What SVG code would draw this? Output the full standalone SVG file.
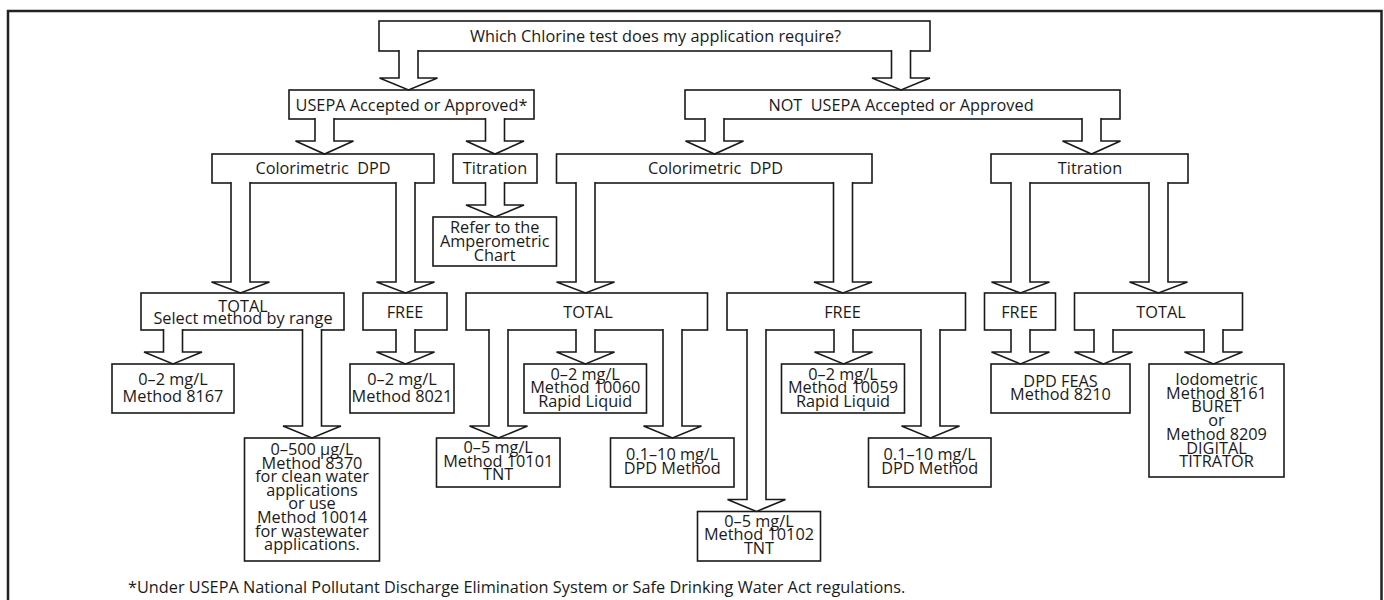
<svg xmlns="http://www.w3.org/2000/svg" width="1384" height="600" viewBox="0 0 1384 600">
<style>
.frame{fill:#fff;stroke:#222;stroke-width:2.5}
.box{fill:#fff;stroke:#1a1a1a;stroke-width:1.6}
.arr{fill:#fff;stroke:#1a1a1a;stroke-width:1.6;stroke-linejoin:miter}
text{font-family:"Open Sans","Liberation Sans",sans-serif;font-size:16.3px;fill:#1a1a1a;text-anchor:middle}
.note{text-anchor:start}
</style>
<rect class="frame" x="8" y="11" width="1373.5" height="620"/>
<g id="n-top"><rect class="box" x="379" y="21" width="551" height="30"/><text x="655.5" y="42">Which Chlorine test does my application require?</text></g>
<g id="n-usepa"><rect class="box" x="289" y="90" width="245" height="29"/><text x="411.5" y="111">USEPA Accepted or Approved*</text></g>
<g id="n-not"><rect class="box" x="685" y="90" width="435" height="29"/><text x="901" y="111" xml:space="preserve">NOT  USEPA Accepted or Approved</text></g>
<g id="n-colorL"><rect class="box" x="212" y="154" width="222" height="29"/><text x="323" y="174" xml:space="preserve">Colorimetric  DPD</text></g>
<g id="n-titrL"><rect class="box" x="453" y="154" width="84" height="29"/><text x="495" y="174">Titration</text></g>
<g id="n-colorR"><rect class="box" x="556.5" y="154" width="315.5" height="29"/><text x="715.5" y="174" xml:space="preserve">Colorimetric  DPD</text></g>
<g id="n-titrR"><rect class="box" x="991" y="154" width="197" height="29"/><text x="1090" y="174">Titration</text></g>
<g id="n-refer"><rect class="box" x="433" y="217" width="123.5" height="49"/><text x="494.7" y="233">Refer to the</text><text x="494.7" y="247">Amperometric</text><text x="494.7" y="261">Chart</text></g>
<g id="n-totalL"><rect class="box" x="141" y="293" width="203" height="37"/><text x="243" y="311.5">TOTAL</text><text x="243" y="323.5">Select method by range</text></g>
<g id="n-freeL"><rect class="box" x="363" y="293" width="84" height="37"/><text x="405" y="317.5">FREE</text></g>
<g id="n-totalM"><rect class="box" x="466" y="293" width="241.5" height="37"/><text x="588" y="317.5">TOTAL</text></g>
<g id="n-freeM"><rect class="box" x="727" y="293" width="238.5" height="37"/><text x="842.5" y="317.5">FREE</text></g>
<g id="n-freeR"><rect class="box" x="984.5" y="293" width="71" height="37"/><text x="1019.5" y="317.5">FREE</text></g>
<g id="n-totalR"><rect class="box" x="1074.5" y="293" width="168" height="37"/><text x="1161" y="317.5">TOTAL</text></g>
<g id="n-8167"><rect class="box" x="112" y="364" width="122" height="49"/><text x="173" y="385">0–2 mg/L</text><text x="173" y="401.5">Method 8167</text></g>
<g id="n-8021"><rect class="box" x="350" y="364" width="104" height="49"/><text x="402" y="385">0–2 mg/L</text><text x="402" y="401.5">Method 8021</text></g>
<g id="n-10060"><rect class="box" x="524" y="364" width="122.5" height="49"/><text x="585.2" y="379.5">0–2 mg/L</text><text x="585.2" y="393">Method 10060</text><text x="585.2" y="406.5">Rapid Liquid</text></g>
<g id="n-10059"><rect class="box" x="781.5" y="364" width="123" height="49"/><text x="843" y="379.5">0–2 mg/L</text><text x="843" y="393">Method 10059</text><text x="843" y="406.5">Rapid Liquid</text></g>
<g id="n-feas"><rect class="box" x="991" y="364" width="139" height="49"/><text x="1060.5" y="387">DPD FEAS</text><text x="1060.5" y="400">Method 8210</text></g>
<g id="n-iodo"><rect class="box" x="1149" y="364" width="135" height="113"/><text x="1216.5" y="385">Iodometric</text><text x="1216.5" y="398.5">Method 8161</text><text x="1216.5" y="412">BURET</text><text x="1216.5" y="425.5">or</text><text x="1216.5" y="439.5">Method 8209</text><text x="1216.5" y="453.5">DIGITAL</text><text x="1216.5" y="467">TITRATOR</text></g>
<g id="n-0500"><rect class="box" x="244.5" y="438" width="135" height="123"/><text x="312" y="455">0–500 µg/L</text><text x="312" y="468.5">Method 8370</text><text x="312" y="482">for clean water</text><text x="312" y="495.5">applications</text><text x="312" y="509">or use</text><text x="312" y="522.5">Method 10014</text><text x="312" y="536.5">for wastewater</text><text x="312" y="550">applications.</text></g>
<g id="n-10101"><rect class="box" x="436.5" y="438" width="123.5" height="49"/><text x="498.2" y="453">0–5 mg/L</text><text x="498.2" y="466.5">Method 10101</text><text x="498.2" y="480">TNT</text></g>
<g id="n-dpdM"><rect class="box" x="610.5" y="438" width="123.5" height="49"/><text x="672.2" y="460">0.1–10 mg/L</text><text x="672.2" y="474">DPD Method</text></g>
<g id="n-10102"><rect class="box" x="697.5" y="511.5" width="123" height="49.5"/><text x="759" y="526.5">0–5 mg/L</text><text x="759" y="540">Method 10102</text><text x="759" y="553.5">TNT</text></g>
<g id="n-dpdR"><rect class="box" x="868.5" y="438" width="122.5" height="49"/><text x="929.7" y="460">0.1–10 mg/L</text><text x="929.7" y="474">DPD Method</text></g>
<g id="connectors">
<path class="arr" d="M399,50 V78 H379.5 L408.5,90 L437.5,78 H418 V50"/>
<path class="arr" d="M891.5,50 V78 H872 L901,90 L930,78 H910.5 V50"/>
<path class="arr" d="M315,118 V141 H295.5 L324.5,154 L353.5,141 H334 V118"/>
<path class="arr" d="M485.5,118 V141 H466 L495,154 L524,141 H504.5 V118"/>
<path class="arr" d="M705,118 V141 H685.5 L714.5,154 L743.5,141 H724 V118"/>
<path class="arr" d="M1082,118 V141 H1062.5 L1091.5,154 L1120.5,141 H1101 V118"/>
<path class="arr" d="M485.5,182 V205 H466 L495,217 L524,205 H504.5 V182"/>
<path class="arr" d="M231,182 V282 H211.5 L240.5,293 L269.5,282 H250 V182"/>
<path class="arr" d="M396,182 V282 H376.5 L405.5,293 L434.5,282 H415 V182"/>
<path class="arr" d="M576,182 V282 H556.5 L585.5,293 L614.5,282 H595 V182"/>
<path class="arr" d="M833.5,182 V282 H814 L843,293 L872,282 H852.5 V182"/>
<path class="arr" d="M1011,182 V282 H991.5 L1020.5,293 L1049.5,282 H1030 V182"/>
<path class="arr" d="M1149,182 V282 H1129.5 L1158.5,293 L1187.5,282 H1168 V182"/>
<path class="arr" d="M163.5,329 V352 H144 L173,364 L202,352 H182.5 V329"/>
<path class="arr" d="M302.5,329 V426 H283 L312,438 L341,426 H321.5 V329"/>
<path class="arr" d="M396,329 V352 H376.5 L405.5,364 L434.5,352 H415 V329"/>
<path class="arr" d="M489,329 V426 H469.5 L498.5,438 L527.5,426 H508 V329"/>
<path class="arr" d="M576,329 V352 H556.5 L585.5,364 L614.5,352 H595 V329"/>
<path class="arr" d="M663,329 V426 H643.5 L672.5,438 L701.5,426 H682 V329"/>
<path class="arr" d="M747,329 V499.5 H727.5 L756.5,511.5 L785.5,499.5 H766 V329"/>
<path class="arr" d="M834,329 V352 H814.5 L843.5,364 L872.5,352 H853 V329"/>
<path class="arr" d="M921,329 V426 H901.5 L930.5,438 L959.5,426 H940 V329"/>
<path class="arr" d="M1011,329 V352 H991.5 L1020.5,364 L1049.5,352 H1030 V329"/>
<path class="arr" d="M1094,329 V352 H1074.5 L1103.5,364 L1132.5,352 H1113 V329"/>
<path class="arr" d="M1204,329 V352 H1184.5 L1213.5,364 L1242.5,352 H1223 V329"/>
</g>
<text class="note" x="128" y="593">*Under USEPA National Pollutant Discharge Elimination System or Safe Drinking Water Act regulations.</text>
</svg>
